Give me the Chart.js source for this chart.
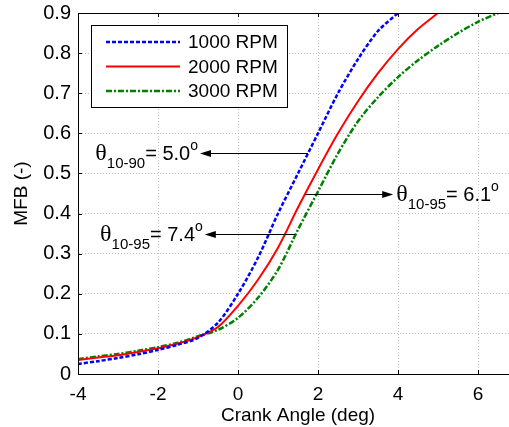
<!DOCTYPE html>
<html>
<head>
<meta charset="utf-8">
<script src="https://cdn.jsdelivr.net/npm/chart.js@4/dist/chart.umd.min.js"></script>
<style>
  html, body { margin: 0; padding: 0; background: #fff; overflow: hidden; }
  #wrap { width: 530px; height: 427px; }
</style>
</head>
<body>
<div id="wrap"><canvas id="mfbChart" width="530" height="427"></canvas></div>
<script>
const crankAngle = [-4, -3.5, -3, -2.5, -2, -1.5, -1, -0.5, 0, 0.5, 1, 1.5, 2, 2.5, 3, 3.5, 4, 4.5, 5, 5.5, 6, 6.5];
const mfb1000 = [0.025, 0.032, 0.04, 0.049, 0.06, 0.073, 0.09, 0.128, 0.2, 0.29, 0.4, 0.5, 0.6, 0.7, 0.785, 0.855, 0.9, null, null, null, null, null];
const mfb2000 = [0.035, 0.041, 0.047, 0.055, 0.064, 0.076, 0.092, 0.117, 0.17, 0.235, 0.315, 0.415, 0.51, 0.6, 0.68, 0.75, 0.81, 0.86, 0.9, null, null, null];
const mfb3000 = [0.037, 0.044, 0.05, 0.058, 0.067, 0.078, 0.094, 0.11, 0.14, 0.19, 0.26, 0.36, 0.455, 0.55, 0.63, 0.69, 0.74, 0.782, 0.818, 0.85, 0.878, 0.9];
const seriesLabels = ["1000 RPM", "2000 RPM", "3000 RPM"];

// annotation arrows: [from x, to x, y, subscript, value, text side]
const arrows = [
  [1.75, -0.95, 0.55, "10-90", "5.0", "left"],
  [1.68, 3.88, 0.45, "10-95", "6.1", "right"],
  [1.43, -0.83, 0.35, "10-95", "7.4", "left"],
];

const toPoints = (vals) => crankAngle.map((x, i) => ({ x: x, y: vals[i] }));

const sans = "'Liberation Sans', Arial, sans-serif";

const boxPlugin = {
  id: "boxPlugin",
  afterDraw(chart) {
    const ctx = chart.ctx;
    const a = chart.chartArea;
    const xs = chart.scales.x, ys = chart.scales.y;
    ctx.save();
    // frame
    ctx.strokeStyle = "#000";
    ctx.lineWidth = 1;
    ctx.strokeRect(a.left + 0.5, a.top + 0.5, a.right - a.left, a.bottom - a.top);
    // inward ticks
    ctx.beginPath();
    xs.ticks.forEach(t => {
      const px = Math.round(xs.getPixelForValue(t.value)) + 0.5;
      ctx.moveTo(px, a.bottom); ctx.lineTo(px, a.bottom - 4);
      ctx.moveTo(px, a.top); ctx.lineTo(px, a.top + 4);
    });
    ys.ticks.forEach(t => {
      const py = Math.round(ys.getPixelForValue(t.value)) + 0.5;
      ctx.moveTo(a.left, py); ctx.lineTo(a.left + 4, py);
    });
    ctx.stroke();

    // arrows + labels
    arrows.forEach(([x0, x1, yv, sub, val, side]) => {
      const px0 = xs.getPixelForValue(x0);
      const px1 = xs.getPixelForValue(x1);
      const py = Math.round(ys.getPixelForValue(yv)) + 0.5;
      const dir = px1 > px0 ? 1 : -1;
      ctx.strokeStyle = "#000";
      ctx.fillStyle = "#000";
      ctx.lineWidth = 1;
      ctx.beginPath();
      ctx.moveTo(px0, py); ctx.lineTo(px1 - dir * 8, py);
      ctx.stroke();
      ctx.beginPath();
      ctx.moveTo(px1, py);
      ctx.lineTo(px1 - dir * 11, py - 3.5);
      ctx.lineTo(px1 - dir * 11, py + 3.5);
      ctx.closePath();
      ctx.fill();

      const fTheta = "24px 'Liberation Serif', 'DejaVu Serif', serif";
      const fSub = "15px " + sans;
      const fMain = "20px " + sans;
      const fDeg = "14px " + sans;
      ctx.font = fTheta; const wT = ctx.measureText("θ").width;
      ctx.font = fSub; const wS = ctx.measureText(sub).width;
      ctx.font = fMain; const wM = ctx.measureText("= " + val).width;
      ctx.font = fDeg; const wD = ctx.measureText("o").width;
      const total = wT + wS + wM + wD;
      let x = side === "left" ? px1 - 2 - total : px1 + 3;
      const base = py + 6;
      ctx.textAlign = "left";
      ctx.textBaseline = "alphabetic";
      ctx.font = fTheta; ctx.fillText("θ", x, base); x += wT;
      ctx.font = fSub; ctx.fillText(sub, x, base + 8); x += wS;
      ctx.font = fMain; ctx.fillText("= " + val, x, base); x += wM;
      ctx.font = fDeg; ctx.fillText("o", x, base - 10);
    });

    // legend box
    const lx = a.left + 13, ly = a.top + 12, lw = 196, lh = 82;
    ctx.fillStyle = "#fff";
    ctx.fillRect(lx, ly, lw, lh);
    ctx.strokeStyle = "#000";
    ctx.lineWidth = 1;
    ctx.strokeRect(lx + 0.5, ly + 0.5, lw, lh);
    chart.data.datasets.forEach((ds, i) => {
      const yy = ly + 17 + i * 24.5;
      ctx.strokeStyle = ds.borderColor;
      ctx.lineWidth = ds.borderWidth;
      ctx.setLineDash(ds.borderDash || []);
      ctx.beginPath();
      ctx.moveTo(lx + 15, yy); ctx.lineTo(lx + 89, yy);
      ctx.stroke();
      ctx.setLineDash([]);
      ctx.fillStyle = "#000";
      ctx.font = "19px " + sans;
      ctx.textBaseline = "middle";
      ctx.fillText(ds.label, lx + 97, yy + 1);
    });
    ctx.restore();
  }
};

new Chart(document.getElementById("mfbChart").getContext("2d"), {
  type: "line",
  data: {
    datasets: [
      {
        label: seriesLabels[0],
        data: toPoints(mfb1000),
        borderColor: "#0000ff",
        borderWidth: 2.5,
        borderDash: [4, 2],
      },
      {
        label: seriesLabels[1],
        data: toPoints(mfb2000),
        borderColor: "#ff0000",
        borderWidth: 2,
      },
      {
        label: seriesLabels[2],
        data: toPoints(mfb3000),
        borderColor: "#008000",
        borderWidth: 2.5,
        borderDash: [6, 2, 2, 2],
      },
    ],
  },
  options: {
    responsive: false,
    animation: false,
    layout: { autoPadding: false, padding: { top: 13, right: 12, left: 10, bottom: 0 } },
    elements: {
      point: { radius: 0 },
      line: { tension: 0.3, fill: false },
    },
    scales: {
      x: {
        type: "linear",
        min: -4,
        max: 7,
        afterFit: (s) => {
          s.height = 53;
          s.paddingLeft = 0;
          s.paddingRight = 0;
        },
        ticks: {
          stepSize: 2,
          includeBounds: false,
          color: "#000",
          font: { size: 19, family: sans },
          padding: 9,
          maxRotation: 0,
        },
        grid: { color: "#c0c0c0", drawTicks: false },
        border: { color: "#000", dash: [1, 2] },
        title: {
          display: true,
          text: "Crank Angle (deg)",
          color: "#000",
          font: { size: 19, family: sans },
          padding: { top: 0, bottom: 0 },
        },
      },
      y: {
        min: 0,
        max: 0.9,
        afterFit: (s) => {
          s.width = 68;
          s.paddingTop = 0;
          s.paddingBottom = 0;
        },
        ticks: {
          stepSize: 0.1,
          color: "#000",
          font: { size: 20, family: sans },
          padding: 7,
          callback: (v) => (v === 0 ? "0" : v.toFixed(1)),
        },
        grid: { color: "#c0c0c0", drawTicks: false },
        border: { color: "#000", dash: [1, 2] },
        title: {
          display: true,
          text: "MFB (-)",
          color: "#000",
          font: { size: 19, family: sans },
          padding: { top: 0, bottom: 0 },
        },
      },
    },
    plugins: {
      legend: { display: false },
      tooltip: { enabled: false },
    },
  },
  plugins: [boxPlugin],
});
</script>
</body>
</html>
